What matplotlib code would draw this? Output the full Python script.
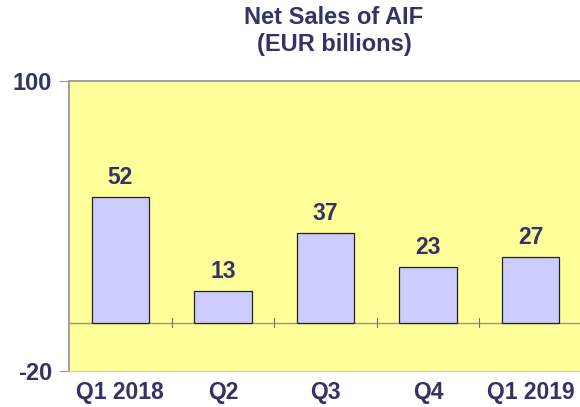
import matplotlib.pyplot as plt

# Quarterly net sales of AIF, EUR billions
quarters = ["Q1 2018", "Q2", "Q3", "Q4", "Q1 2019"]
net_sales = [52, 13, 37, 23, 27]
y_ticks = [-20, 100]

text_col = "#333366"
plt.rcParams["font.family"] = ["Liberation Sans", "DejaVu Sans"]

fig = plt.figure(figsize=(5.8, 4.07), dpi=100)
ax = fig.add_axes([69 / 580, (407 - 371) / 407, (582 - 69) / 580, (371 - 81) / 407])
ax.set_facecolor("#FFFF99")

x = range(len(quarters))
ax.bar(x, net_sales, width=0.56, color="#CCCCFF", edgecolor="#222222", linewidth=0.9, zorder=3)
for i, v in enumerate(net_sales):
    ax.text(i, v + 3.3, str(v), ha="center", va="bottom", fontsize=16.5,
            fontweight="bold", color=text_col, zorder=4)

# zero line with category divider ticks
ax.axhline(0, color="#999977", linewidth=1, zorder=2)
for b in [0.5, 1.5, 2.5, 3.5]:
    ax.plot([b, b], [-1.8, 1.8], color="#777766", linewidth=0.8, zorder=2)

ax.set_xlim(-0.5, 4.5)
ax.set_ylim(-20, 100)
ax.set_yticks(y_ticks)
ax.set_yticklabels([str(t) for t in y_ticks], fontsize=17, fontweight="bold", color=text_col)
ax.tick_params(axis="y", length=7, color="#999999", pad=5)
ax.set_xticks(list(x))
ax.set_xticklabels(quarters, fontsize=16.5, fontweight="bold", color=text_col)
ax.tick_params(axis="x", length=0, pad=7)

for s in ["top", "left"]:
    ax.spines[s].set_color("#999999")
    ax.spines[s].set_linewidth(1.3)
ax.spines["bottom"].set_color("#CCCCAA")
ax.spines["bottom"].set_linewidth(0.8)
ax.spines["right"].set_visible(False)

fig.text(334 / 580, 1 - 17 / 407, "Net Sales of AIF", ha="center", va="center",
         fontsize=17, fontweight="bold", color=text_col)
fig.text(334 / 580, 1 - 45 / 407, "(EUR billions)", ha="center", va="center",
         fontsize=17, fontweight="bold", color=text_col)

fig.savefig("out.png", dpi=100)
